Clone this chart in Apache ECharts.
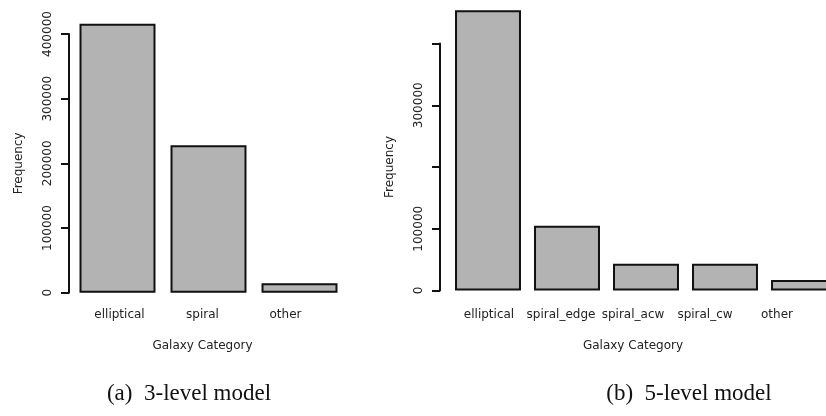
<!DOCTYPE html>
<html>
<head>
<meta charset="utf-8">
<script src="https://cdn.jsdelivr.net/npm/echarts@6/dist/echarts.min.js"></script>
<style>
html, body { margin: 0; padding: 0; background: #fff; overflow: hidden; }
#main { width: 826px; height: 416px; }
</style>
</head>
<body>
<div id="main"></div>
<script>
// 3-level model
var categories3 = ['elliptical', 'spiral', 'other'];
var counts3 = [416000, 228000, 14500];
// 5-level model
var categories5 = ['elliptical', 'spiral_edge', 'spiral_acw', 'spiral_cw', 'other'];
var counts5 = [454000, 105000, 43500, 43500, 17000];
var yTicks = [0, 100000, 200000, 300000, 400000];
var yShown5 = ['0', '100000', '300000'];

var myChart = echarts.init(document.getElementById('main'));

var font = 'DejaVu Sans';
var barStyle = { color: '#b3b3b3', borderColor: '#111', borderWidth: 2 };

function yAxisOf(gridIndex, offset, shown) {
	return {
		type: 'value',
		gridIndex: gridIndex,
		min: yTicks[0],
		max: yTicks[yTicks.length - 1],
		interval: yTicks[1] - yTicks[0],
		offset: offset,
		name: 'Frequency',
		nameLocation: 'middle',
		nameGap: 44,
		nameTextStyle: { fontFamily: font, fontSize: 12, color: '#222' },
		axisLine: { show: true, lineStyle: { color: '#111', width: 2 } },
		axisTick: { show: true, length: 8, lineStyle: { color: '#111', width: 2 } },
		axisLabel: {
			rotate: 90,
			margin: 15,
			fontFamily: font,
			fontSize: 12,
			color: '#222',
			formatter: function (v) {
				var s = String(v);
				if (shown && shown.indexOf(s) < 0) return '';
				return s;
			}
		},
		splitLine: { show: false }
	};
}

function hiddenY(gridIndex) {
	return { type: 'value', gridIndex: gridIndex, show: false, min: 0, max: 1 };
}

function barX(gridIndex, data) {
	return {
		type: 'category',
		gridIndex: gridIndex,
		data: data,
		axisLine: { show: false },
		axisTick: { show: false },
		axisLabel: { show: false }
	};
}

// label axes sit in their own grids (text is spaced a bit tighter than the bars)
function labelX(gridIndex, data, margin, nameGap) {
	return {
		type: 'category',
		gridIndex: gridIndex,
		data: data,
		name: 'Galaxy Category',
		nameLocation: 'middle',
		nameGap: nameGap,
		nameTextStyle: { fontFamily: font, fontSize: 12, color: '#222' },
		axisLine: { show: false, onZero: false },
		axisTick: { show: false },
		axisLabel: { margin: margin, fontFamily: font, fontSize: 12, color: '#222', interval: 0 }
	};
}

var option = {
	animation: false,
	title: [{
		text: '(a)  3-level model',
		left: 184,
		top: 377,
		textAlign: 'center',
		textStyle: { fontFamily: 'Liberation Serif', fontSize: 23, fontWeight: 'normal', color: '#111' }
	}, {
		text: '(b)  5-level model',
		left: 684,
		top: 377,
		textAlign: 'center',
		textStyle: { fontFamily: 'Liberation Serif', fontSize: 23, fontWeight: 'normal', color: '#111' }
	}],
	grid: [
		{ left: 72, top: 34, width: 273, height: 258.7, outerBoundsMode: 'none' },
		{ left: 448.5, top: 43.5, width: 395, height: 247, outerBoundsMode: 'none' },
		{ left: 78, top: 34, width: 249, height: 258.7, outerBoundsMode: 'none' },
		{ left: 453, top: 43.5, width: 360, height: 247, outerBoundsMode: 'none' }
	],
	xAxis: [
		barX(0, categories3),
		barX(1, categories5),
		labelX(2, categories3, 16, 47),
		labelX(3, categories5, 18, 49)
	],
	yAxis: [
		yAxisOf(0, 3, null),
		yAxisOf(1, 8.5, yShown5),
		hiddenY(2),
		hiddenY(3)
	],
	series: [{
		name: '3-level',
		type: 'bar',
		xAxisIndex: 0,
		yAxisIndex: 0,
		barCategoryGap: '16.5%',
		clip: false,
		itemStyle: barStyle,
		data: counts3
	}, {
		name: '5-level',
		type: 'bar',
		xAxisIndex: 1,
		yAxisIndex: 1,
		barCategoryGap: '16.5%',
		clip: false,
		itemStyle: barStyle,
		data: counts5
	}]
};

myChart.setOption(option);
</script>
</body>
</html>
